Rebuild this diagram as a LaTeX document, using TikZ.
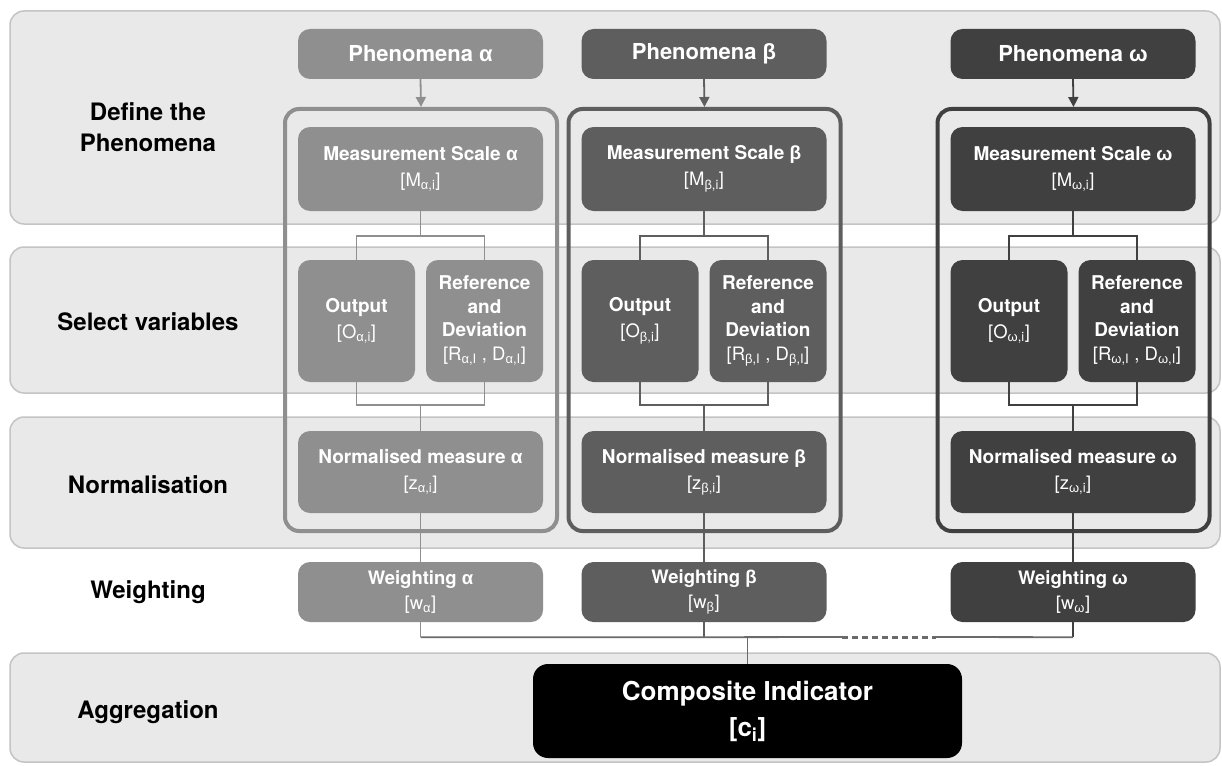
\documentclass[tikz,border=0pt]{standalone}
\usepackage{fontspec}
\setmainfont{TeX Gyre Heros}
\newfontfamily\gk{Liberation Sans}
\usetikzlibrary{calc,arrows.meta}
\definecolor{bandfill}{HTML}{E9E9E9}
\definecolor{bandline}{HTML}{C4C4C4}
\definecolor{ca}{HTML}{8F8F8F}
\definecolor{cb}{HTML}{5E5E5E}
\definecolor{cw}{HTML}{404040}
\definecolor{cline}{HTML}{6A6A6A}
\newcommand{\br}[1]{{\fontsize{18.5}{25}\selectfont\mdseries #1}}
\tikzset{
  band/.style={fill=bandfill, draw=bandline, line width=1.5pt, rounded corners=14pt},
  lab/.style={font=\fontsize{24}{31}\selectfont\bfseries, align=center, text=black},
  cont/.style={line width=4pt, rounded corners=14pt, minimum width=272pt, minimum height=422pt, inner sep=0pt},
  box/.style={rounded corners=12pt, text=white, align=center, inner sep=0pt,
              font=\fontsize{19}{26}\selectfont\bfseries},
  conn/.style={line width=1.8pt},
  tip/.style={-{Triangle[length=10pt,width=10pt]}}
}
\begin{document}
\begin{tikzpicture}[x=1pt,y=-1pt]
\useasboundingbox (0,0) rectangle (1222,765);
\fill[white] (0,0) rectangle (1222,765);
% bands
\draw[band] (10,11) rectangle (1220,224);
\draw[band] (10,247) rectangle (1220,393);
\draw[band] (10,417) rectangle (1220,548);
\draw[band] (10,653) rectangle (1220,762);
% row labels
\node[lab] (l1) at (148,127) {Define the\\Phenomena};
\node[lab] (l2) at (148,322) {Select variables};
\node[lab] (l3) at (148,485) {Normalisation};
\node[lab] (l4) at (148,592) {Weighting};
\node[lab] (l5) at (148,712) {Aggregation};
% columns
\foreach \c/\x/\g/\col in {a/420.5/α/ca,b/704/β/cb,w/1073/ω/cw}{
  \node[cont, draw=\col] (k\c) at (\x+0.5,320) {};
  \node[box, fill=\col, minimum width=245pt, minimum height=50pt,
        font=\fontsize{22}{26}\selectfont\bfseries] (p\c) at (\x,54) {Phenomena {\gk\g}};
  \node[box, fill=\col, minimum width=245pt, minimum height=84pt] (m\c) at (\x,169)
        {Measurement Scale {\gk\g}\\\br{[M\textsubscript{{\gk\g},i}]}};
  \node[box, fill=\col, minimum width=117pt, minimum height=122pt] (o\c) at (\x-64,321)
        {Output\\\br{[O\textsubscript{{\gk\g},i}]}};
  \node[box, fill=\col, minimum width=117pt, minimum height=122pt,
        font=\fontsize{19}{23.5}\selectfont\bfseries] (r\c) at (\x+64,321)
        {Reference\\and\\Deviation\\\br{[R\textsubscript{{\gk\g},I} , D\textsubscript{{\gk\g},I}]}};
  \node[box, fill=\col, minimum width=245pt, minimum height=82pt] (n\c) at (\x,472)
        {Normalised measure {\gk\g}\\\br{[z\textsubscript{{\gk\g},i}]}};
  \node[box, fill=\col, minimum width=245pt, minimum height=60pt,
        font=\fontsize{18.5}{25}\selectfont\bfseries] (w\c) at (\x,592)
        {Weighting {\gk\g}\\\br{[w\textsubscript{{\gk\g}}]}};
  \draw[conn, draw=\col, fill=\col, tip] (p\c.south) -- (k\c.north);
  \draw[conn, draw=\col] (m\c.south) -- ++(0,25) coordinate (s\c);
  \draw[conn, draw=\col] (o\c.north) |- (s\c) -| (r\c.north);
  \draw[conn, draw=\col] (o\c.south) -- ++(0,23) -| (r\c.south);
  \draw[conn, draw=\col] (n\c.north) -- ++(0,-26);
  \draw[conn, draw=\col] (n\c.south) -- (w\c.north);
  \draw[conn, draw=\col] (w\c.south) -- ++(0,15) coordinate (e\c);
}
% aggregation
\node[box, fill=black, rounded corners=15pt, minimum width=429pt, minimum height=94pt,
      font=\fontsize{26}{36}\selectfont\bfseries] (ci) at (747.5,711)
      {Composite Indicator\\{}[c\textsubscript{i}]};
\coordinate (d1) at (842,637);
\coordinate (d2) at (936,637);
\draw[conn, draw=cline] (ea) -- (eb) -- (d1);
\draw[draw=cline, line width=3pt, dash pattern=on 6pt off 4pt] (d1) -- (d2);
\draw[conn, draw=cline] (d2) -- (ew);
\draw[conn, draw=cline] (ci.north) -- (ci.north |- ea);
\end{tikzpicture}
\end{document}
